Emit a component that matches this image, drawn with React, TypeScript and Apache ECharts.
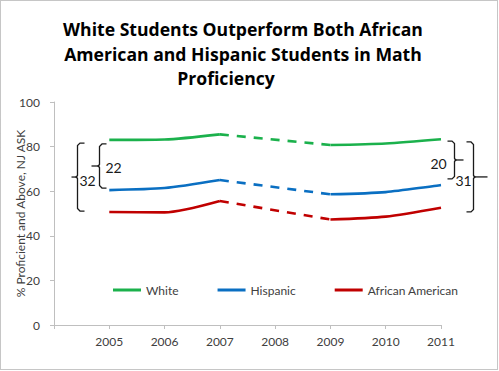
import React, { useEffect, useRef } from "react";
import * as echarts from "echarts";

const years = ["", "2005", "2006", "2007", "2008", "2009", "2010", "2011"];
const white = [null, 83, 83.2, 85.5, null, 80.7, 81.4, 83.3];
const hispanic = [null, 60.5, 61.4, 65, null, 58.6, 59.6, 62.8];
const african = [null, 50.7, 50.5, 55.6, null, 47.3, 48.6, 52.6];
const seriesNames = ["White", "Hispanic", "African American"];
const colors = ["#1bb14c", "#0a6fc2", "#c00000"];
const titleLines = [
  "White Students Outperform Both African",
  "American and Hispanic Students in Math",
  "Proficiency",
];
const yTicks = { min: 0, max: 100, interval: 20 };
const yName = "% Proficient and Above, NJ ASK";

// gap annotations: label, category index, top value, bottom value
const gapLabels = ["32", "22", "20", "31"];
const gapCats = [1, 1, 7, 7];
const gapTops = [81.6, 81.2, 82.5, 82.1];
const gapBottoms = [51.1, 61.4, 65.5, 50.7];

const FONT = "Lato";
const TITLE_FONT = "Open Sans";
const TEXT = "#404040";

export default function App() {
  const ref = useRef<HTMLDivElement>(null);
  useEffect(() => {
    document.body.style.margin = "0";
    const chart = echarts.init(ref.current!, null, { renderer: "svg" });
    const datasets = [white, hispanic, african];
    const gapIdx = [3, 5];
    const series: any[] = [];
    datasets.forEach((d, k) => {
      series.push({
        name: seriesNames[k],
        type: "line",
        data: d,
        symbol: "none",
        smooth: 0.25,
        connectNulls: false,
        lineStyle: { color: colors[k], width: 2.6 },
        itemStyle: { color: colors[k] },
        z: 3,
      });
      series.push({
        name: seriesNames[k] + " gap",
        type: "line",
        data: d.map((v, i) => (gapIdx.includes(i) ? v : null)),
        symbol: "none",
        connectNulls: true,
        lineStyle: { color: colors[k], width: 2.6, type: [9, 8] },
        itemStyle: { color: colors[k] },
        z: 2,
      });
    });
    chart.setOption({
      animation: false,
      backgroundColor: "#ffffff",
      textStyle: { fontFamily: FONT },
      title: titleLines.map((t, i) => ({
        text: t,
        left: i === 2 ? 226 : 243,
        textAlign: "center",
        top: 20 + i * 24.5,
        padding: 0,
        textStyle: { fontFamily: TITLE_FONT, fontSize: 17.6, fontWeight: "bold", color: "#000" },
      })),
      legend: {
        data: seriesNames,
        left: 113,
        top: 284,
        padding: 0,
        icon: "rect",
        itemWidth: 28,
        itemHeight: 3,
        itemGap: 39,
        textStyle: { fontFamily: FONT, fontSize: 12, color: TEXT },
      },
      grid: {
        left: 54,
        right: 58,
        top: 102,
        bottom: 46,
        containLabel: false,
        outerBoundsMode: "none",
      },
      xAxis: {
        type: "category",
        data: years,
        boundaryGap: false,
        axisLine: { lineStyle: { color: "#bfbfbf" } },
        axisTick: { show: true, interval: 0, length: 4, lineStyle: { color: "#bfbfbf" } },
        axisLabel: { interval: 0, color: TEXT, fontSize: 12, margin: 10, fontFamily: FONT },
        splitLine: { show: false },
      },
      yAxis: {
        type: "value",
        min: yTicks.min,
        max: yTicks.max,
        interval: yTicks.interval,
        name: yName,
        nameLocation: "middle",
        nameGap: 28,
        nameMoveOverlap: false,
        nameTextStyle: { color: TEXT, fontSize: 12, fontFamily: FONT },
        axisLine: { show: true, lineStyle: { color: "#bfbfbf" } },
        axisTick: { show: true, length: 4, lineStyle: { color: "#bfbfbf" } },
        axisLabel: { color: TEXT, fontSize: 12, margin: 14, fontFamily: FONT },
        splitLine: { show: false },
      },
      series,
    });

    // brackets
    const spineOffsets = [-32, -10, 13, 32];
    const dirs = [1, 1, -1, -1];
    const tipLens = [6, 8, 9, 14];
    const labelDx = [10, 14, -16, -10];
    const labelDy = [3, 1, 4, 4];
    const graphics: any[] = [
      {
        type: "rect",
        shape: { x: 0.5, y: 0.5, width: 497, height: 369 },
        style: { fill: "none", stroke: "#8c8c8c", lineWidth: 1, lineDash: [1, 1] },
        silent: true,
      },
    ];
    gapLabels.forEach((lab, k) => {
      const top = chart.convertToPixel({ gridIndex: 0 }, [gapCats[k], gapTops[k]]) as number[];
      const bot = chart.convertToPixel({ gridIndex: 0 }, [gapCats[k], gapBottoms[k]]) as number[];
      const x = Math.round(top[0] + spineOffsets[k]) + 0.5;
      const yT = top[1];
      const yB = bot[1];
      const mid = (yT + yB) / 2;
      const d = dirs[k];
      const hook = 7;
      const r = 2.5;
      graphics.push({
        type: "polyline",
        shape: {
          points: [
            [x + d * hook, yT],
            [x + d * r, yT],
            [x, yT + r],
            [x, mid - 1.5],
            [x - d * 1.5, mid],
            [x, mid + 1.5],
            [x, yB - r],
            [x + d * r, yB],
            [x + d * hook, yB],
          ],
        },
        style: { stroke: "#1a1a1a", lineWidth: 1.3, fill: "none" },
        silent: true,
      });
      graphics.push({
        type: "line",
        shape: { x1: x, y1: mid, x2: x - d * tipLens[k], y2: mid },
        style: { stroke: "#1a1a1a", lineWidth: 1.3 },
        silent: true,
      });
      graphics.push({
        type: "text",
        x: x + labelDx[k],
        y: mid + labelDy[k],
        style: {
          text: lab,
          fill: "#1a1a1a",
          font: `14px ${FONT}`,
          align: "center",
          verticalAlign: "middle",
        },
        silent: true,
      });
    });
    chart.setOption({ graphic: graphics });
    return () => chart.dispose();
  }, []);
  return <div ref={ref} style={{ width: 499, height: 371 }} />;
}
